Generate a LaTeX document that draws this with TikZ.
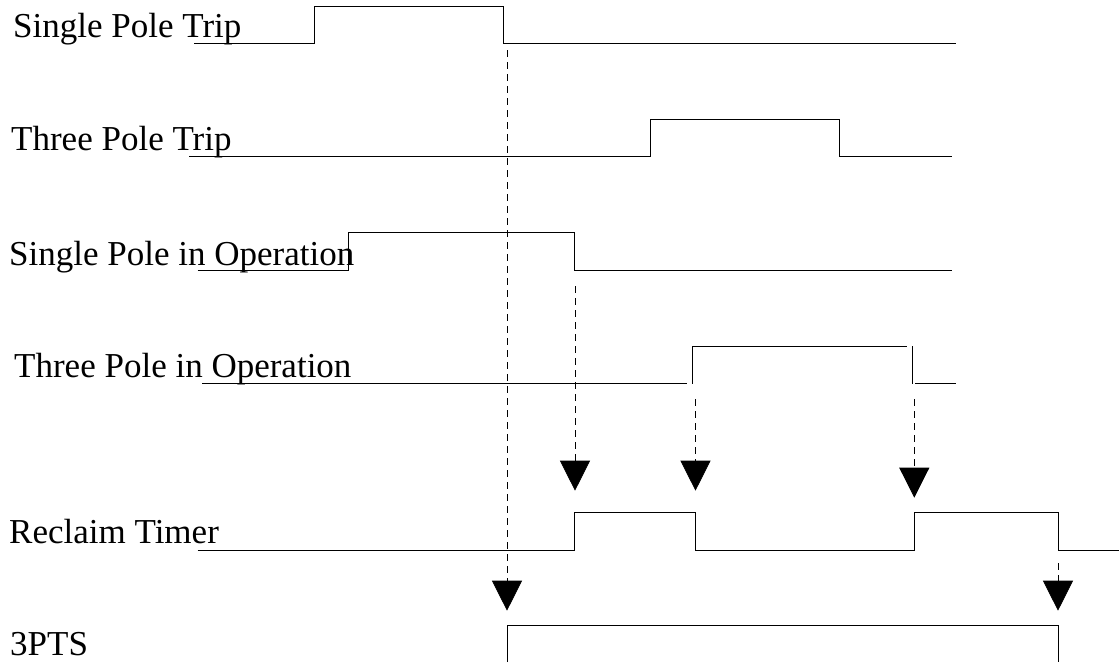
\documentclass[tikz,border=0pt]{standalone}
\usepackage{fontspec}
\setmainfont{Liberation Serif}
\usetikzlibrary{arrows.meta}
\begin{document}
\begin{tikzpicture}[x=1pt,y=-1pt,
  lbl/.style={anchor=base west,inner sep=0pt,font=\fontsize{35}{41}\selectfont},
  sig/.style={line width=0.9pt,black},
  trig/.style={line width=0.8pt,dash pattern=on 7pt off 5pt,-{Triangle[width=30pt,length=30pt]}}]
\useasboundingbox (0,0) rectangle (1120,662);
% labels
\node[lbl] (l1) at (13,37) {Single Pole Trip};
\node[lbl] (l2) at (11,150) {Three Pole Trip};
\node[lbl] (l3) at (9,265) {Single Pole in Operation};
\node[lbl] (l4) at (14,377) {Three Pole in Operation};
\node[lbl] (l5) at (9,543) {Reclaim Timer};
\node[lbl] (l6) at (10,655) {3PTS};
% signals
\draw[sig] (194,43.3) -- (314,43.3) -- (314,6) -- (503.5,6) -- (503.5,43.3) -- (956,43.3);
\draw[sig] (189,156.7) -- (650.3,156.7) -- (650.3,119.3) -- (839,119.3) -- (839,156.7) -- (952,156.7);
\draw[sig] (197.5,270.5) -- (348,270.5) -- (348,232.7) -- (574.7,232.7) -- (574.7,270.5) -- (952,270.5);
\draw[sig] (202,383.7) -- (687,383.7);
\draw[sig] (692.3,383.7) -- (692.3,346) -- (907,346);
\draw[sig] (912,346) -- (912,383.7);
\draw[sig] (915,383.7) -- (956,383.7);
\draw[sig] (197.5,550) -- (574.7,550) -- (574.7,512.3) -- (695.5,512.3) -- (695.5,550) -- (914.3,550) -- (914.3,512.3) -- (1058,512.3) -- (1058,550) -- (1119,550);
\draw[sig] (507,662) -- (507,625.7) -- (1058,625.7) -- (1058,662);
% trigger coordinates
\coordinate (a1) at (507,50);   \coordinate (b1) at (507,610.7);
\coordinate (a2) at (575,286);  \coordinate (b2) at (575,490.7);
\coordinate (a3) at (695.5,399);\coordinate (b3) at (695.5,490.7);
\coordinate (a4) at (914.3,399);\coordinate (b4) at (914.3,497.7);
\coordinate (a5) at (1058,563); \coordinate (b5) at (1058,610.7);
\draw[trig] (a1) -- (b1);
\draw[trig] (a2) -- (b2);
\draw[trig] (a3) -- (b3);
\draw[trig] (a4) -- (b4);
\draw[trig] (a5) -- (b5);
\end{tikzpicture}
\end{document}
